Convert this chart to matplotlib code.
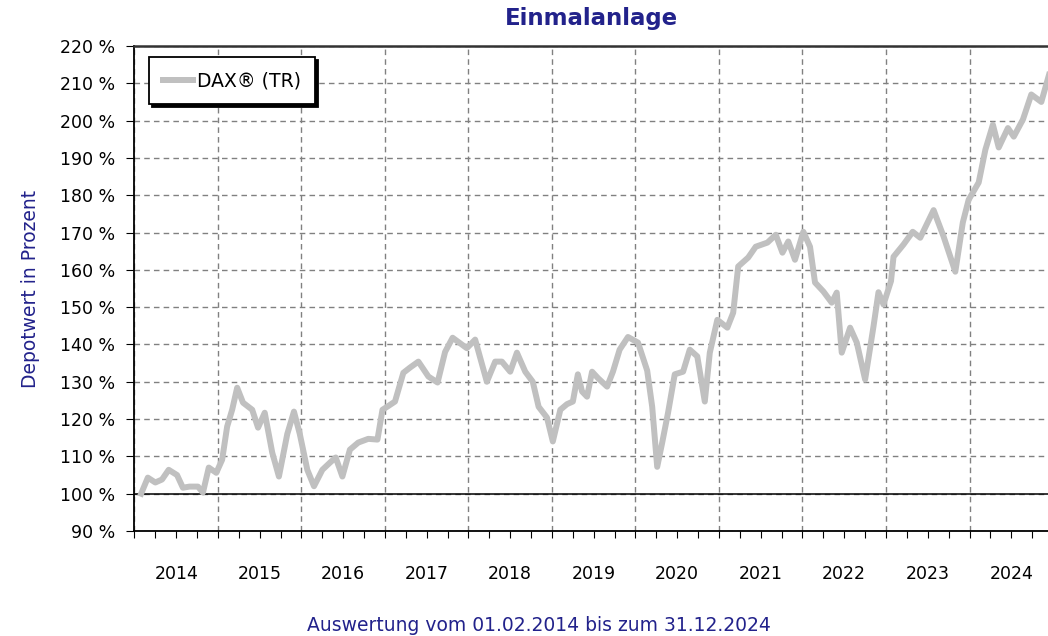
"""
Einmalanlage: DAX (TR) Depotwert in Prozent, 02/2014 - 12/2024.
"""

import matplotlib
matplotlib.use("Agg")
import matplotlib.pyplot as plt
from matplotlib.ticker import MultipleLocator, FuncFormatter

# decimal year of each reading
dates = [
    2014.08, 2014.16, 2014.25, 2014.33, 2014.41, 2014.51, 2014.58, 2014.66,
    2014.76, 2014.82, 2014.89, 2014.98, 2015.05, 2015.11, 2015.17, 2015.23,
    2015.30, 2015.41, 2015.48, 2015.56, 2015.65, 2015.73, 2015.83, 2015.91,
    2015.98, 2016.07, 2016.15, 2016.25, 2016.34, 2016.41, 2016.49, 2016.58,
    2016.68, 2016.80, 2016.91, 2016.97, 2017.04, 2017.12, 2017.22, 2017.30,
    2017.40, 2017.52, 2017.63, 2017.72, 2017.81, 2017.98, 2018.08, 2018.22,
    2018.32, 2018.40, 2018.50, 2018.58, 2018.68, 2018.77, 2018.84, 2018.94,
    2019.01, 2019.10, 2019.18, 2019.25, 2019.31, 2019.36, 2019.42, 2019.48,
    2019.55, 2019.66, 2019.73, 2019.81, 2019.91, 2020.03, 2020.14, 2020.20,
    2020.26, 2020.32, 2020.39, 2020.47, 2020.57, 2020.65, 2020.74, 2020.83,
    2020.89, 2020.98, 2021.10, 2021.17, 2021.23, 2021.35, 2021.44, 2021.58,
    2021.68, 2021.76, 2021.83, 2021.91, 2022.01, 2022.09, 2022.15, 2022.25,
    2022.35, 2022.41, 2022.47, 2022.57, 2022.65, 2022.75, 2022.85, 2022.91,
    2022.97, 2023.06, 2023.09, 2023.21, 2023.32, 2023.41, 2023.57, 2023.69,
    2023.83, 2023.92, 2023.99, 2024.11, 2024.19, 2024.28, 2024.35, 2024.46,
    2024.53, 2024.64, 2024.74, 2024.86, 2024.96,
]
dax_tr = [
    100.0, 104.3, 103.0, 103.8, 106.4, 105.0, 101.6, 101.9,
    101.9, 100.3, 107.0, 105.6, 109.1, 118.0, 122.5, 128.4,
    124.4, 122.5, 117.7, 121.7, 111.0, 104.6, 116.0, 122.0,
    116.0, 106.4, 102.0, 106.4, 108.3, 109.7, 104.6, 111.8,
    113.7, 114.7, 114.5, 122.5, 123.5, 124.7, 132.4, 133.8,
    135.4, 131.4, 129.8, 138.0, 141.8, 139.0, 141.3, 130.0,
    135.4, 135.4, 132.7, 137.8, 132.7, 130.0, 123.3, 120.4,
    114.0, 122.5, 124.0, 124.7, 132.0, 127.4, 126.0, 132.7,
    131.0, 128.7, 132.7, 138.6, 142.0, 140.5, 133.0, 123.3,
    107.2, 113.7, 121.7, 132.0, 132.7, 138.6, 136.8, 124.7,
    137.8, 146.6, 144.5, 148.5, 160.9, 163.3, 166.2, 167.3,
    169.4, 164.6, 167.6, 162.7, 170.2, 166.2, 156.6, 154.2,
    151.2, 153.9, 137.8, 144.5, 140.5, 130.6, 144.8, 154.0,
    150.7, 157.0, 163.5, 166.8, 170.2, 168.6, 176.0, 168.9,
    159.5, 172.7, 178.8, 183.4, 192.2, 198.9, 192.8, 198.0,
    195.7, 200.3, 207.0, 205.0, 212.9,
]
years = list(range(2014, 2025))
year_labels = [str(y) for y in years]

navy = "#22228b"
plt.rcParams["font.family"] = ["DejaVu Sans"]

fig = plt.figure(figsize=(10.48, 6.36), dpi=100)
ax = fig.add_axes([0.1283, 0.1651, 1.0 - 0.1283, 0.9277 - 0.1651])

ax.plot(dates, dax_tr, color="#c0c0c0", linewidth=4.3, solid_joinstyle="round",
        label="DAX® (TR)", zorder=3)
ax.axhline(100, color="black", linewidth=1.1, zorder=2)

ax.set_xlim(2014.0, 2024.94)
ax.set_ylim(90, 220)
ax.yaxis.set_major_locator(MultipleLocator(10))
ax.yaxis.set_major_formatter(FuncFormatter(lambda v, p: f"{v:.0f} %"))
ax.xaxis.set_major_locator(MultipleLocator(1))
ax.xaxis.set_minor_locator(MultipleLocator(0.25))
ax.xaxis.set_major_formatter(FuncFormatter(lambda v, p: ""))

ax.grid(True, which="major", color="#808080", linestyle=(0, (4, 3)), linewidth=1.0)
ax.tick_params(axis="y", direction="out", length=6, width=0.8, pad=8,
               labelsize=12.5, colors="black")
ax.tick_params(axis="x", which="both", direction="out", length=5, width=0.8)

for y, lab in zip(years, year_labels):
    ax.text(y + 0.5, -0.088, lab, transform=ax.get_xaxis_transform(),
            ha="center", va="center", fontsize=12.5)

for side in ["left", "bottom"]:
    ax.spines[side].set_linewidth(1.3)
ax.spines["top"].set_linewidth(1.8)
ax.spines["top"].set_color("#333333")
ax.spines["right"].set_visible(False)

ax.set_title("Einmalanlage", fontsize=16.5, fontweight="bold", color=navy, pad=15)
ax.set_ylabel("Depotwert in Prozent", fontsize=13.5, color=navy, labelpad=14)
fig.text(0.514, 0.016, "Auswertung vom 01.02.2014 bis zum 31.12.2024",
         ha="center", va="center", fontsize=13.5, color=navy)

leg = ax.legend(loc="upper left", bbox_to_anchor=(0.012, 0.985), fancybox=False,
                shadow={"color": "black", "alpha": 1.0}, framealpha=1,
                edgecolor="black", fontsize=13.5, handlelength=1.6,
                handletextpad=0.2, borderpad=0.75, borderaxespad=0.2)
leg.get_frame().set_linewidth(1.3)

fig.savefig("out.png", dpi=100)
